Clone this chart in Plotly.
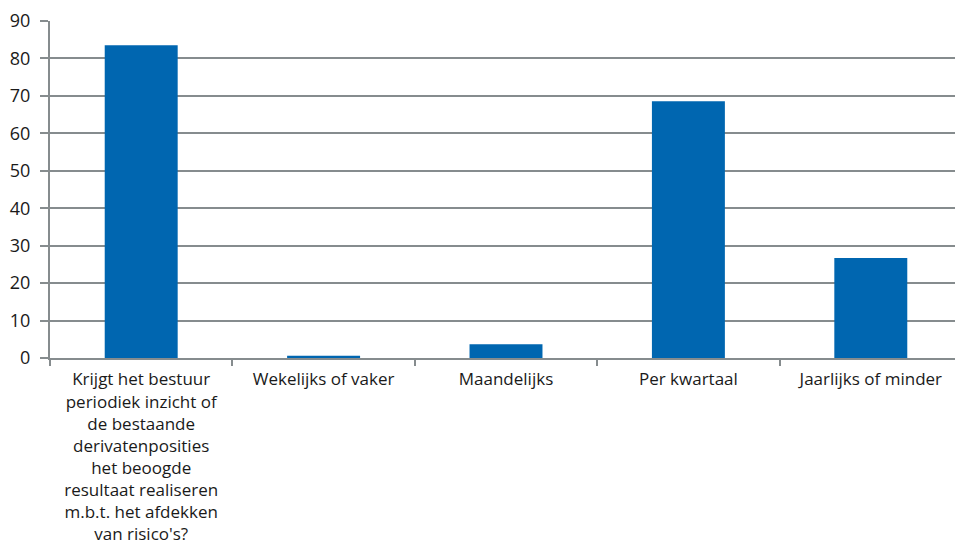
import plotly.graph_objects as go

categories = [
    "Krijgt het bestuur<br>periodiek inzicht of<br>de bestaande<br>derivatenposities<br>het beoogde<br>resultaat realiseren<br>m.b.t. het afdekken<br>van risico's?",
    "Wekelijks of vaker",
    "Maandelijks",
    "Per kwartaal",
    "Jaarlijks of minder",
]
values = [83.5, 0.6, 3.7, 68.6, 26.7]
y_ticks = [0, 10, 20, 30, 40, 50, 60, 70, 80, 90]

grid = "#868c8e"
fig = go.Figure(go.Bar(x=categories, y=values, marker_color="#0066b0", marker_line_width=0))
fig.update_layout(
    width=955, height=537,
    margin=dict(l=42, r=1, t=13, b=187, autoexpand=False),
    plot_bgcolor="white", paper_bgcolor="white",
    bargap=0.6, showlegend=False,
    font=dict(family="Open Sans", size=18, color="#1a1a1a"),
)
fig.update_xaxes(
    tickson="boundaries", ticks="outside", ticklen=6, tickwidth=2, tickcolor=grid,
    showline=True, linecolor=grid, linewidth=2, showgrid=False, tickangle=0,
    automargin=False, tickfont=dict(size=17), ticklabelstandoff=5,
)
fig.update_yaxes(
    range=[0, 90], tickvals=y_ticks, ticks="outside", ticklen=8, tickwidth=2, tickcolor=grid,
    showline=True, linecolor=grid, linewidth=2, gridcolor=grid, gridwidth=2,
    zeroline=False, automargin=False, ticklabelstandoff=6,
)
fig.write_html("out.html")
